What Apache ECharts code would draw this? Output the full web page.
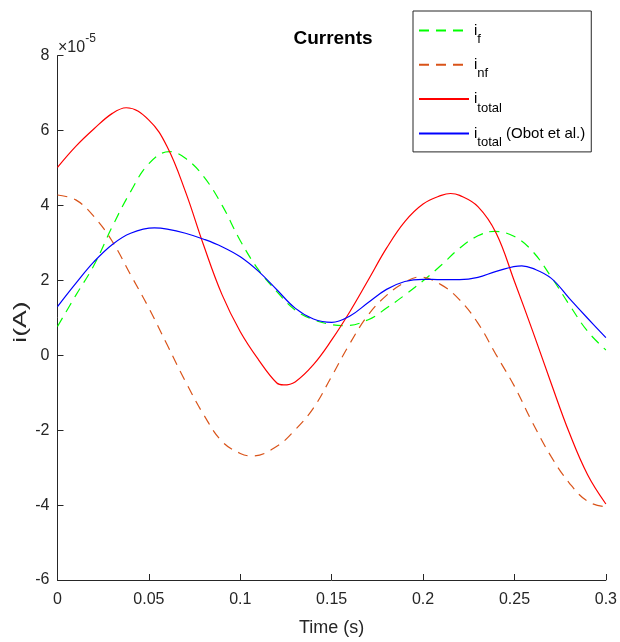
<!DOCTYPE html>
<html>
<head>
<meta charset="utf-8">
<script src="https://cdn.jsdelivr.net/npm/echarts@6/dist/echarts.min.js"></script>
<style>
  html, body { margin: 0; padding: 0; background: #fff; }
  #chart { width: 620px; height: 642px; }
</style>
</head>
<body>
<div id="chart"></div>
<script>
// Sample times (s) and currents (units of 1e-5 A) for each trace;
// turning points are sampled at their own times.
const tF = [0, 0.01, 0.02, 0.03, 0.04, 0.05, 0.0612, 0.07, 0.08, 0.09, 0.10,
            0.11, 0.12, 0.13, 0.14, 0.15, 0.157, 0.17, 0.18, 0.19, 0.20,
            0.21, 0.22, 0.23, 0.239, 0.25, 0.26, 0.27, 0.28, 0.29, 0.30];
const iF = [0.77, 1.60, 2.41, 3.44, 4.37, 5.12, 5.44, 5.26, 4.77, 4.01, 3.06,
            2.28, 1.70, 1.21, 0.95, 0.82, 0.79, 0.95, 1.26, 1.61, 1.99,
            2.41, 2.86, 3.19, 3.31, 3.17, 2.77, 2.10, 1.35, 0.64, 0.14];

const tNf = [0, 0.01, 0.02, 0.03, 0.04, 0.05, 0.06, 0.07, 0.08, 0.09, 0.10,
             0.1065, 0.12, 0.13, 0.14, 0.15, 0.16, 0.17, 0.18, 0.19, 0.198,
             0.21, 0.22, 0.23, 0.24, 0.25, 0.26, 0.27, 0.28, 0.29, 0.30];
const iNf = [4.28, 4.15, 3.70, 3.04, 2.15, 1.26, 0.28, -0.70, -1.59, -2.30, -2.62,
             -2.69, -2.43, -1.99, -1.41, -0.56, 0.32, 1.08, 1.60, 1.95, 2.09,
             1.88, 1.48, 0.86, 0.01, -0.83, -1.81, -2.70, -3.41, -3.90, -4.05];

const tTotal = [0, 0.01, 0.02, 0.03, 0.0376, 0.05, 0.06, 0.07, 0.08, 0.09, 0.10,
                0.11, 0.12, 0.1237, 0.13, 0.14, 0.15, 0.16, 0.17, 0.18, 0.19, 0.20,
                0.21, 0.215, 0.22, 0.23, 0.24, 0.25, 0.26, 0.27, 0.28, 0.29, 0.30];
const iTotal = [5.02, 5.58, 6.05, 6.46, 6.61, 6.28, 5.57, 4.37, 2.93, 1.62, 0.63,
                -0.12, -0.74, -0.79, -0.71, -0.25, 0.41, 1.17, 2.01, 2.86, 3.57, 4.04,
                4.27, 4.32, 4.27, 3.97, 3.26, 1.97, 0.64, -0.74, -2.07, -3.19, -3.97];

const tObot = [0, 0.01, 0.02, 0.03, 0.04, 0.053, 0.06, 0.07, 0.08, 0.09, 0.10,
               0.11, 0.12, 0.13, 0.14, 0.15, 0.16, 0.17, 0.18, 0.19, 0.20,
               0.21, 0.22, 0.23, 0.24, 0.254, 0.26, 0.27, 0.28, 0.29, 0.30];
const iTotalObot = [1.30, 1.92, 2.50, 2.96, 3.26, 3.40, 3.37, 3.26, 3.10, 2.90, 2.63,
                    2.24, 1.75, 1.26, 0.97, 0.88, 1.05, 1.41, 1.76, 1.97, 2.03,
                    2.02, 2.02, 2.08, 2.24, 2.39, 2.32, 2.06, 1.52, 0.99, 0.47];

// Axis ticks
const xTicks = [0, 0.05, 0.1, 0.15, 0.2, 0.25, 0.3];
const yTicks = [-6, -4, -2, 0, 2, 4, 6, 8];

const seriesNames = ['i_f', 'i_nf', 'i_total', 'i_total (Obot et al.)'];
const legendText = {
  'i_f': '{m|i}{s|f}',
  'i_nf': '{m|i}{s|nf}',
  'i_total': '{m|i}{s|total}',
  'i_total (Obot et al.)': '{m|i}{s|total}{m| (Obot et al.)}'
};

const FONT = '"Liberation Sans", Arial, Helvetica, sans-serif';
const AXIS_COLOR = '#262626';

const pairs = (ts, vals) => ts.map((t, k) => [t, vals[k]]);

const chart = echarts.init(document.getElementById('chart'), null, { renderer: 'canvas' });

chart.setOption({
  animation: false,
  backgroundColor: '#ffffff',
  textStyle: { fontFamily: FONT },
  title: {
    text: 'Currents',
    left: 333,
    top: 29,
    padding: 0,
    textAlign: 'center',
    textStyle: { fontFamily: FONT, fontSize: 19, fontWeight: 'bold', color: '#000' }
  },
  grid: { left: 57.5, right: 11, top: 55.7, bottom: 61.3, containLabel: false },
  xAxis: {
    type: 'value',
    min: xTicks[0],
    max: xTicks[xTicks.length - 1],
    interval: 0.05,
    name: 'Time (s)',
    nameLocation: 'middle',
    nameGap: 39,
    nameTextStyle: { fontFamily: FONT, fontSize: 18, color: AXIS_COLOR },
    axisLine: { show: true, onZero: false, lineStyle: { color: AXIS_COLOR, width: 1 } },
    axisTick: { show: true, inside: true, length: 6, lineStyle: { color: AXIS_COLOR } },
    axisLabel: { fontFamily: FONT, fontSize: 16, color: AXIS_COLOR, margin: 12 },
    splitLine: { show: false }
  },
  yAxis: {
    type: 'value',
    min: yTicks[0],
    max: yTicks[yTicks.length - 1],
    interval: 2,
    axisLine: { show: true, onZero: false, lineStyle: { color: AXIS_COLOR, width: 1 } },
    axisTick: { show: true, inside: true, length: 6, lineStyle: { color: AXIS_COLOR } },
    axisLabel: { fontFamily: FONT, fontSize: 16, color: AXIS_COLOR, margin: 8 },
    splitLine: { show: false }
  },
  legend: {
    data: seriesNames,
    orient: 'vertical',
    left: 413,
    top: 11,
    padding: [4, 6, 3, 5],
    itemGap: 3.3,
    itemWidth: 50,
    itemHeight: 14,
    itemStyle: { opacity: 0 },
    backgroundColor: '#ffffff',
    borderColor: AXIS_COLOR,
    borderWidth: 1,
    borderRadius: 0,
    formatter: name => legendText[name],
    textStyle: {
      fontFamily: FONT,
      color: '#000',
      rich: {
        // main letter, padded so its centre sits on the legend line
        m: { fontFamily: FONT, fontSize: 15, lineHeight: 18, padding: [7, 0, 7, 0], color: '#000' },
        // subscript, same box height but shifted down
        s: { fontFamily: FONT, fontSize: 13, lineHeight: 14, padding: [18, 0, 0, 0], color: '#000' }
      }
    }
  },
  series: [
    {
      name: seriesNames[0], type: 'line', data: pairs(tF, iF), smooth: 0.4,
      symbol: 'none', z: 2,
      lineStyle: { color: '#00ff00', width: 1.2, type: [10, 7] },
      itemStyle: { color: '#00ff00' }
    },
    {
      name: seriesNames[1], type: 'line', data: pairs(tNf, iNf), smooth: 0.4,
      symbol: 'none', z: 2,
      lineStyle: { color: '#d95319', width: 1.2, type: [10, 7] },
      itemStyle: { color: '#d95319' }
    },
    {
      name: seriesNames[2], type: 'line', data: pairs(tTotal, iTotal), smooth: 0.4,
      symbol: 'none', z: 2,
      lineStyle: { color: '#ff0000', width: 1.2, type: 'solid' },
      itemStyle: { color: '#ff0000' }
    },
    {
      name: seriesNames[3], type: 'line', data: pairs(tObot, iTotalObot), smooth: 0.4,
      symbol: 'none', z: 2,
      lineStyle: { color: '#0000ff', width: 1.2, type: 'solid' },
      itemStyle: { color: '#0000ff' }
    }
  ],
  graphic: [
    {
      // exponent multiplier for the y axis
      type: 'text',
      x: 58,
      y: 33,
      style: {
        text: '{x|×10}{p|-5}',
        fill: AXIS_COLOR,
        rich: {
          x: { fontFamily: FONT, fontSize: 16, lineHeight: 16, verticalAlign: 'top', padding: [7, 0, 0, 0], fill: AXIS_COLOR, color: AXIS_COLOR },
          p: { fontFamily: FONT, fontSize: 12, lineHeight: 12, verticalAlign: 'top', fill: AXIS_COLOR, color: AXIS_COLOR }
        }
      }
    },
    {
      // y axis title, read bottom to top
      type: 'text',
      x: 21,
      y: 322,
      rotation: Math.PI / 2,
      scaleX: 1.4,
      style: {
        text: 'i(A)',
        fontFamily: FONT,
        fontSize: 19,
        fill: AXIS_COLOR,
        align: 'center',
        verticalAlign: 'middle'
      }
    }
  ]
});
</script>
</body>
</html>
